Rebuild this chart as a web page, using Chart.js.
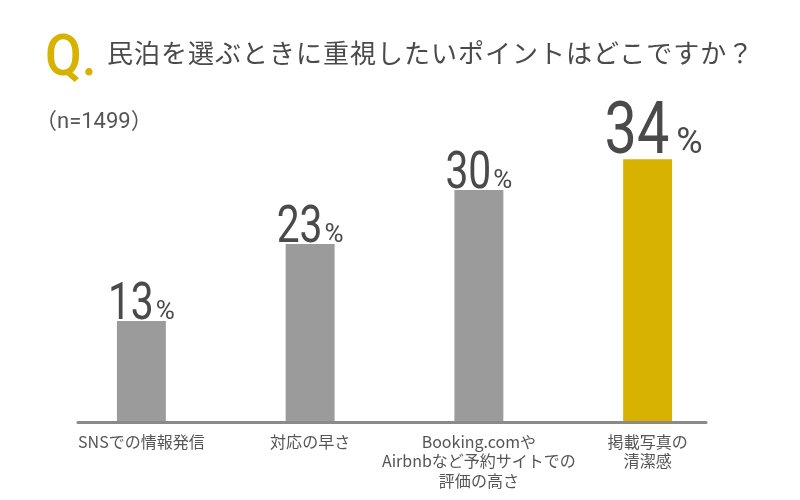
<!DOCTYPE html>
<html><head><meta charset="utf-8">
<script src="https://cdn.jsdelivr.net/npm/chart.js@4.4.0/dist/chart.umd.min.js"></script>
<style>
html,body{margin:0;padding:0;background:#fff;}
#wrap{position:relative;width:800px;height:500px;overflow:hidden;background:#fff;}
#chart{position:absolute;left:0;top:0;}
#q{position:absolute;left:45px;top:26px;font:500 58px/1 Roboto,sans-serif;color:#d8b200;transform:scaleX(0.92);transform-origin:left top;white-space:nowrap;}
#title{position:absolute;left:107px;top:39px;font:400 26px/26px "Noto Sans CJK JP",sans-serif;letter-spacing:1px;color:#4a4a4a;white-space:nowrap;}
#n{position:absolute;left:35px;top:109px;font:400 22px/24px Roboto,"Noto Sans CJK JP",sans-serif;color:#555;white-space:nowrap;}
</style></head>
<body><div id="wrap">
<canvas id="chart" width="800" height="500"></canvas>
<div id="q">Q.</div>
<div id="title">民泊を選ぶときに重視したいポイントはどこですか？</div>
<div id="n">（n=1499）</div>
</div>
<script>
const categories = [
  "SNSでの情報発信",
  "対応の早さ",
  ["Booking.comや", "Airbnbなど予約サイトでの", "評価の高さ"],
  ["掲載写真の", "清潔感"]
];
const values = [13, 23, 30, 34];
const barColors = ["#9b9b9b", "#9b9b9b", "#9b9b9b", "#d8b200"];

const valuePlugin = {
  id: 'valueLabels',
  afterDatasetsDraw(chart) {
    const ctx = chart.ctx;
    const meta = chart.getDatasetMeta(0);
    const maxV = Math.max(...values);
    const area = chart.chartArea;
    // baseline
    ctx.save();
    ctx.strokeStyle = '#8a8a8a';
    ctx.lineWidth = 3;
    ctx.lineCap = 'round';
    ctx.beginPath();
    ctx.moveTo(area.left + 21, area.bottom + 1.5);
    ctx.lineTo(area.right - 26, area.bottom + 1.5);
    ctx.stroke();
    ctx.restore();
    meta.data.forEach((bar, i) => {
      const v = values[i];
      const big = v === maxV;
      const numSize = big ? 72 : 51, pctSize = big ? 36 : 26, sx = 0.8;
      ctx.save();
      ctx.fillStyle = '#4a4a4a';
      ctx.textBaseline = 'alphabetic';
      ctx.textAlign = 'left';
      ctx.font = `400 ${numSize}px Roboto`;
      const numW = ctx.measureText(String(v)).width * sx;
      ctx.font = `400 ${pctSize}px Roboto`;
      const pctW = ctx.measureText('%').width;
      const gap = big ? 7 : 2;
      const total = numW + gap + pctW;
      const x0 = bar.x - total / 2 + (big ? 6 : 0);
      const yb = bar.y - (big ? 6 : 2);
      ctx.translate(x0, yb);
      ctx.save();
      ctx.scale(sx, 1);
      ctx.font = `400 ${numSize}px Roboto`;
      ctx.fillText(String(v), 0, 0);
      ctx.restore();
      ctx.font = `400 ${pctSize}px Roboto`;
      ctx.fillText('%', numW + gap, 0);
      ctx.restore();
    });
  }
};

new Chart(document.getElementById('chart'), {
  type: 'bar',
  data: {
    labels: categories,
    datasets: [{
      data: values,
      backgroundColor: barColors,
      borderWidth: 0,
      barPercentage: 0.29,
      categoryPercentage: 1.0
    }]
  },
  options: {
    responsive: false,
    animation: false,
    events: [],
    layout: { padding: { left: 57, right: 68, top: 113, bottom: 0 } },
    plugins: { legend: { display: false }, tooltip: { enabled: false }, title: { display: false } },
    scales: {
      x: {
        grid: { display: false },
        border: { display: false },
        ticks: {
          color: '#555',
          font: { family: '"Noto Sans CJK JP", sans-serif', size: 16, lineHeight: 1.22 },
          padding: 3,
          autoSkip: false,
          maxRotation: 0,
          minRotation: 0
        },
        afterFit(s) { s.height = 79; }
      },
      y: {
        display: false,
        min: 0,
        max: 40
      }
    }
  },
  plugins: [valuePlugin]
});
</script>
</body></html>
